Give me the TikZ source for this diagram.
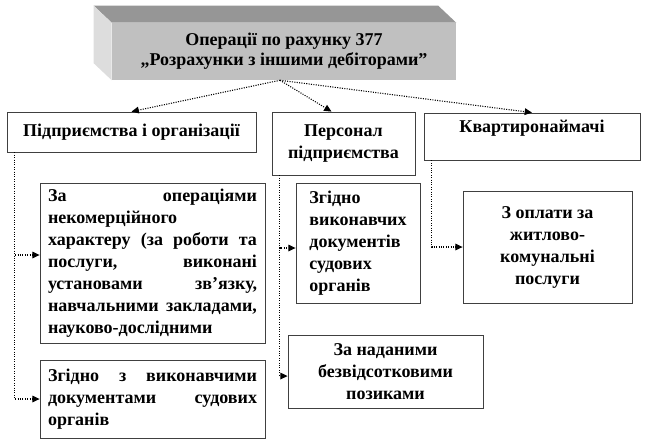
\documentclass[tikz,border=0pt]{standalone}
\usepackage{fontspec}
\setmainfont{Liberation Serif}
\usetikzlibrary{arrows.meta,shadows}
\definecolor{frontgray}{HTML}{C0C0C0}
\definecolor{topgray}{HTML}{969696}
\definecolor{sidegray}{HTML}{DDDDDD}
\definecolor{edge}{HTML}{404040}
\tikzset{
  box/.style={
    draw=edge, fill=white, line width=0.6pt,
    inner xsep=7.5pt, inner ysep=2pt,
    font=\fontsize{13.5}{16.5}\selectfont\bfseries,
    drop shadow={shadow xshift=0.9pt, shadow yshift=-0.9pt, fill=black!55, opacity=1}
  },
  front/.style={
    fill=frontgray, align=center,
    font=\fontsize{13.5}{15}\selectfont\bfseries
  },
  conn/.style={-{Triangle[length=5.5pt,width=5pt]}, line width=0.8pt, densely dotted, draw=black}
}
\begin{document}
\begin{tikzpicture}[x=0.75pt, y=-0.75pt,
        wide/.style={box, text width=156.75pt, inner xsep=6pt, align=justify}
      ]
        \useasboundingbox (0,0) rectangle (648,443);
        \node[front, minimum width=258pt, minimum height=42.75pt] (main) at (284,51.5) {Операції по рахунку 377\\„Розрахунки з іншими дебіторами”};
        \fill[topgray] (main.north west) -- ++(-18,-17) -- ([shift={(-18,-17)}]main.north east) -- (main.north east) -- cycle;
        \fill[sidegray] (main.north west) -- ++(-18,-17) -- ([shift={(-18,-17)}]main.south west) -- (main.south west) -- cycle;
        \node[box, minimum width=186.75pt, minimum height=30pt] (org) at (131.5,132) {Підприємства і організації};
        \node[box, minimum width=107.25pt, minimum height=47.25pt, align=center] (staff) at (343.5,143.5) {Персонал\\підприємства};
        \node[box, minimum width=162pt, minimum height=35.25pt, text depth=15pt] (tenants) at (532,136.5) {Квартиронаймачі};
        \node[wide, minimum height=120pt] (ops) at (152.5,263) {За операціями\linebreak некомерційного\linebreak характеру (за роботи та\linebreak послуги, виконані\linebreak установами зв’язку,\linebreak навчальними закладами,\linebreak науково-дослідними};
        \node[wide, minimum height=58.5pt] (courts1) at (152.5,399) {Згідно з виконавчими\linebreak документами судових\linebreak органів};
        \node[box, minimum width=93pt, minimum height=90pt, align=left] (courts2) at (358,243) {Згідно\\виконавчих\\документів\\судових\\органів};
        \node[box, minimum width=146.25pt, minimum height=54.75pt, align=center] (loans) at (385.5,371.5) {За наданими\\безвідсотковими\\позиками};
        \node[box, minimum width=126.75pt, minimum height=84pt, align=center] (utilities) at (547.5,247) {З оплати за\\житлово-\\комунальні\\послуги};
        \draw[conn] ([xshift=-3pt]main.south) -- (org.north);
        \draw[conn] ([xshift=-3pt]main.south) -- ([xshift=-9pt]staff.north);
        \draw[conn] ([xshift=-3pt]main.south) -- (tenants.north);
        \draw[conn] ([xshift=6pt]org.south west) |- ([yshift=6pt]ops.west);
        \draw[conn] ([xshift=6pt]org.south west) |- (courts1.west);
        \draw[conn] ([xshift=6pt]staff.south west) |- ([yshift=-3.75pt]courts2.west);
        \draw[conn] ([xshift=6pt]staff.south west) |- ([yshift=-3.4pt]loans.west);
        \draw[conn] ([xshift=6pt]tenants.south west) |- (utilities.west);
      \end{tikzpicture}
\end{document}
